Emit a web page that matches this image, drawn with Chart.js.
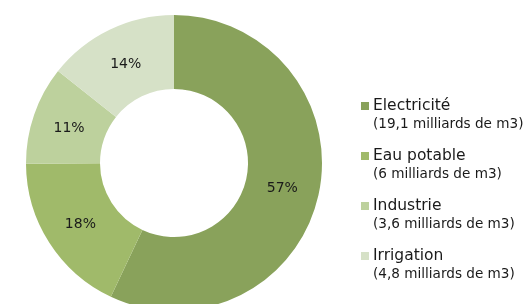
<!DOCTYPE html>
<html>
<head>
<meta charset="utf-8">
<script src="https://cdn.jsdelivr.net/npm/chart.js@4/dist/chart.umd.min.js"></script>
<style>
  html, body { margin: 0; padding: 0; background: #ffffff; overflow: hidden; width: 526px; height: 304px; }
  #wrap { position: absolute; left: 0; top: 0; width: 526px; height: 326px; }
</style>
</head>
<body>
<div id="wrap"><canvas id="c" width="526" height="326"></canvas></div>
<script>
const categories = ['Electricité', 'Eau potable', 'Industrie', 'Irrigation'];
const volumes = [19.1, 6, 3.6, 4.8];
const volumeLabels = ['(19,1 milliards de m3)', '(6 milliards de m3)', '(3,6 milliards de m3)', '(4,8 milliards de m3)'];
const colors = ['#89A25B', '#A0BA6A', '#BDD19D', '#D6E1C7'];

const labelPlugin = {
  id: 'sliceLabels',
  afterDatasetsDraw(chart) {
    const ctx = chart.ctx;
    const meta = chart.getDatasetMeta(0);
    const data = chart.data.datasets[0].data;
    const total = data.reduce((a, b) => a + b, 0);
    ctx.save();
    ctx.font = '14px "DejaVu Sans", Verdana, sans-serif';
    ctx.fillStyle = '#1a1a1a';
    ctx.textAlign = 'center';
    ctx.textBaseline = 'middle';
    meta.data.forEach((arc, i) => {
      const p = arc.tooltipPosition();
      const pct = Math.round(data[i] / total * 100) + '%';
      ctx.fillText(pct, p.x, p.y + 1.5);
    });
    ctx.restore();
  }
};

const legendPlugin = {
  id: 'sideLegend',
  afterDraw(chart) {
    const ctx = chart.ctx;
    const x0 = 361, yTop = 102, step = 50;
    ctx.save();
    ctx.textAlign = 'left';
    ctx.textBaseline = 'alphabetic';
    categories.forEach((name, i) => {
      const y = yTop + i * step;
      ctx.fillStyle = colors[i];
      ctx.fillRect(x0, y, 8, 8);
      ctx.fillStyle = '#1a1a1a';
      ctx.font = '15.5px "DejaVu Sans", Verdana, sans-serif';
      ctx.fillText(name, x0 + 12, y + 8);
      ctx.font = '13.6px "DejaVu Sans", Verdana, sans-serif';
      ctx.fillText(volumeLabels[i], x0 + 12, y + 25.5);
    });
    ctx.restore();
  }
};

new Chart(document.getElementById('c'), {
  type: 'doughnut',
  data: {
    labels: categories,
    datasets: [{
      data: volumes,
      backgroundColor: colors,
      borderWidth: 0,
      hoverOffset: 0
    }]
  },
  options: {
    responsive: false,
    animation: false,
    cutout: '50%',
    layout: { padding: { left: 26, top: 15, right: 204, bottom: 15 } },
    plugins: {
      legend: { display: false },
      tooltip: { enabled: false }
    }
  },
  plugins: [labelPlugin, legendPlugin]
});
</script>
</body>
</html>
